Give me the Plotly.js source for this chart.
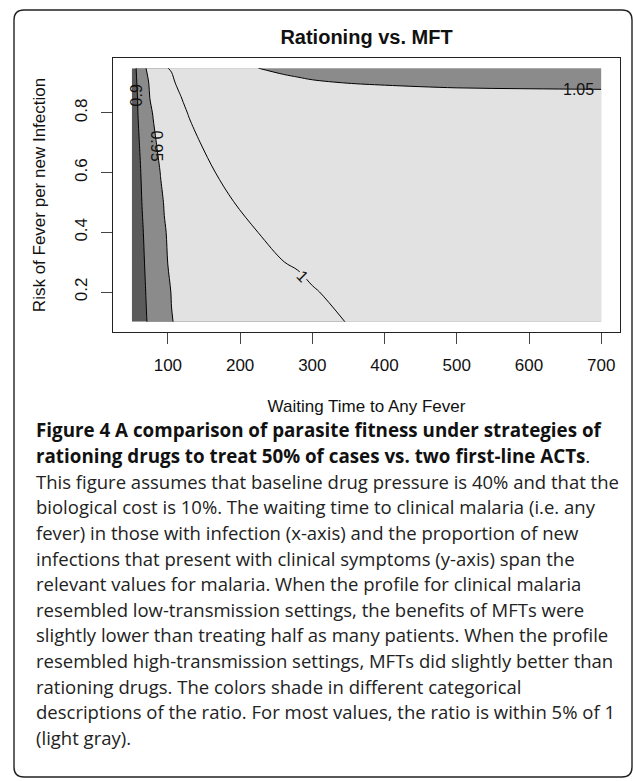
<!DOCTYPE html>
<html><head><meta charset="utf-8">
<script src="https://cdn.plot.ly/plotly-3.0.1.min.js"></script>
<style>html,body{margin:0;padding:0;background:#fff;}#chart{width:633px;height:781px;}</style>
</head><body><div id="chart"></div>
<script>
// ---- data ----
const waitingTime = [50,55,60,65,70,75,80,85,90,95,100,105,110,120,130,145,165,190,225,260,280,300,350,400,500,600,700];
const feverRisk = [0.1,0.2,0.3,0.4,0.5,0.6,0.7,0.8,0.85,0.9,0.95];
const ratioRow010 = [0.8696,0.8768,0.8841,0.8913,0.8986,0.9058,0.9130,0.9203,0.9275,0.9348,0.9420,0.9493,0.9509,0.9530,0.9551,0.9582,0.9624,0.9676,0.9749,0.9823,0.9864,0.9906,1.0010,1.0115,1.0212,1.0233,1.0254];
const ratioRow020 = [0.8705,0.8781,0.8858,0.8934,0.9011,0.9087,0.9164,0.9240,0.9317,0.9393,0.9469,0.9507,0.9519,0.9543,0.9567,0.9603,0.9651,0.9712,0.9796,0.9880,0.9928,0.9976,1.0096,1.0202,1.0226,1.0250,1.0274];
const ratioRow030 = [0.8716,0.8797,0.8877,0.8958,0.9039,0.9119,0.9200,0.9281,0.9361,0.9442,0.9504,0.9520,0.9535,0.9566,0.9597,0.9643,0.9704,0.9781,0.9889,0.9997,1.0027,1.0088,1.0207,1.0223,1.0254,1.0284,1.0300];
const ratioRow040 = [0.8733,0.8817,0.8900,0.8983,0.9067,0.9150,0.9233,0.9317,0.9400,0.9483,0.9516,0.9535,0.9554,0.9593,0.9632,0.9690,0.9767,0.9864,1.0001,1.0136,1.0201,1.0209,1.0228,1.0248,1.0287,1.0300,1.0300];
const ratioRow050 = [0.8754,0.8842,0.8930,0.9018,0.9105,0.9193,0.9281,0.9368,0.9456,0.9513,0.9538,0.9563,0.9588,0.9638,0.9688,0.9764,0.9864,0.9990,1.0166,1.0214,1.0224,1.0234,1.0259,1.0285,1.0300,1.0300,1.0300];
const ratioRow060 = [0.8759,0.8855,0.8952,0.9048,0.9145,0.9241,0.9338,0.9434,0.9510,0.9543,0.9575,0.9607,0.9639,0.9704,0.9768,0.9865,0.9994,1.0155,1.0218,1.0241,1.0253,1.0266,1.0299,1.0300,1.0300,1.0300,1.0300];
const ratioRow070 = [0.8767,0.8878,0.8989,0.9100,0.9211,0.9322,0.9433,0.9516,0.9556,0.9597,0.9637,0.9677,0.9718,0.9798,0.9879,1.0001,1.0161,1.0216,1.0245,1.0273,1.0289,1.0300,1.0300,1.0300,1.0300,1.0300,1.0300];
const ratioRow080 = [0.8776,0.8908,0.9039,0.9171,0.9303,0.9434,0.9525,0.9576,0.9626,0.9677,0.9727,0.9778,0.9828,0.9929,1.0030,1.0182,1.0218,1.0244,1.0279,1.0300,1.0300,1.0300,1.0300,1.0300,1.0300,1.0300,1.0300];
const ratioRow085 = [0.8765,0.8912,0.9059,0.9206,0.9353,0.9501,0.9557,0.9614,0.9670,0.9727,0.9784,0.9841,0.9898,1.0011,1.0040,1.0060,1.0070,1.0080,1.0090,1.0100,1.0105,1.0110,1.0125,1.0150,1.0190,1.0210,1.0230];
const ratioRow090 = [0.8774,0.8935,0.9097,0.9258,0.9419,0.9533,0.9600,0.9667,0.9733,0.9800,0.9867,0.9933,0.9999,1.0038,1.0074,1.0124,1.0183,1.0245,1.0310,1.0360,1.0407,1.0449,1.0504,1.0557,1.0646,1.0678,1.0696];
const ratioRow095 = [0.8778,0.8963,0.9148,0.9333,0.9508,0.9590,0.9672,0.9754,0.9836,0.9918,0.9998,1.0025,1.0049,1.0097,1.0143,1.0209,1.0291,1.0385,1.0499,1.0600,1.0640,1.0680,1.0760,1.0810,1.0870,1.0910,1.0940];
const xTickValues = [100,200,300,400,500,600,700];
const yTickValues = [0.2,0.4,0.6,0.8];
const yTickLabels = ['0.2','0.4','0.6','0.8'];
const contourLabelText = ['0.9','0.95','1','1.05'];
const captionLines = [
  '<b>Figure 4 A comparison of parasite fitness under strategies of</b>',
  '<b>rationing drugs to treat 50% of cases vs. two first-line ACTs</b>.',
  'This figure assumes that baseline drug pressure is 40% and that the',
  'biological cost is 10%. The waiting time to clinical malaria (i.e. any',
  'fever) in those with infection (x-axis) and the proportion of new',
  'infections that present with clinical symptoms (y-axis) span the',
  'relevant values for malaria. When the profile for clinical malaria',
  'resembled low-transmission settings, the benefits of MFTs were',
  'slightly lower than treating half as many patients. When the profile',
  'resembled high-transmission settings, MFTs did slightly better than',
  'rationing drugs. The colors shade in different categorical',
  'descriptions of the ratio. For most values, the ratio is within 5% of 1',
  '(light gray).'
];

// ---- layout geometry ----
const W = 633, H = 781;
const M = {l:113, r:13, t:58, b:449};
const PW = W - M.l - M.r, PH = H - M.t - M.b;
const px2x = p => (p - M.l) / PW;
const py2y = p => (H - M.b - p) / PH;

const DARK = '#5b5b5b', MID = '#8b8b8b', LIGHT = '#e2e2e2';
const RFONT = 'Liberation Sans, Arial, sans-serif';
const CFONT = 'Open Sans, Noto Sans, sans-serif';

const ratio = [ratioRow010,ratioRow020,ratioRow030,ratioRow040,ratioRow050,ratioRow060,ratioRow070,ratioRow080,ratioRow085,ratioRow090,ratioRow095];

const trace = {
  type: 'contour',
  x: waitingTime, y: feverRisk, z: ratio,
  autocontour: false,
  contours: {start: 0.9, end: 1.05, size: 0.05, coloring: 'fill', showlines: true},
  colorscale: [[0, DARK],[0.25, MID],[0.5, LIGHT],[0.75, LIGHT],[1, MID]],
  line: {color: '#000', width: 1, smoothing: 1},
  showscale: false,
  hoverinfo: 'skip'
};

// outer rounded frame
const fx0 = px2x(14), fx1 = px2x(632), fy1 = py2y(10), fy0 = py2y(777);
const rx = 10/PW, ry = 10/PH;
const framePath = `M ${fx0+rx},${fy1} L ${fx1-rx},${fy1} Q ${fx1},${fy1} ${fx1},${fy1-ry} L ${fx1},${fy0+ry} Q ${fx1},${fy0} ${fx1-rx},${fy0} L ${fx0+rx},${fy0} Q ${fx0},${fy0} ${fx0},${fy0+ry} L ${fx0},${fy1-ry} Q ${fx0},${fy1} ${fx0+rx},${fy1} Z`;

const annotations = [];
// contour labels
const labelFont = {family: RFONT, size: 16, color: '#111'};
annotations.push({xref:'x', yref:'y', x:57, y:0.858, text:contourLabelText[0], showarrow:false, textangle:-90, font:labelFont});
annotations.push({xref:'x', yref:'y', x:84.8, y:0.688, text:contourLabelText[1], showarrow:false, textangle:90, font:labelFont});
annotations.push({xref:'x', yref:'y', x:287, y:0.252, text:contourLabelText[2], showarrow:false, textangle:45, font:labelFont, bgcolor:LIGHT, borderpad:0});
annotations.push({xref:'x', yref:'y', x:668, y:0.880, text:contourLabelText[3], showarrow:false, textangle:0, font:labelFont});

// caption
const capTop = 430, capStep = 25.6;
captionLines.forEach((t, i) => {
  annotations.push({
    xref:'paper', yref:'paper', x: px2x(34), y: py2y(capTop + i*capStep),
    xanchor:'left', yanchor:'middle', showarrow:false, align:'left',
    text: t,
    font: {family: CFONT, size: i < 2 ? 18.8 : 18.5, color: i < 2 ? '#111' : '#222'}
  });
});

const axisCommon = {
  showline: true, linecolor: '#222', linewidth: 1.2, mirror: true,
  ticks: 'outside', ticklen: 10.5, tickwidth: 1, tickcolor: '#444',
  showgrid: false, zeroline: false,
  tickfont: {family: RFONT, size: 17, color: '#111'}
};

const layout = {
  width: W, height: H,
  margin: M,
  paper_bgcolor: '#fff', plot_bgcolor: '#fff',
  showlegend: false,
  title: {text: '<b>Rationing vs. MFT</b>', font: {family: RFONT, size: 20, color: '#111'},
          x: 0.5, xref: 'paper', xanchor: 'center', y: 1 - 37/H, yref: 'container', yanchor: 'middle'},
  xaxis: Object.assign({}, axisCommon, {
    range: [24, 726], tickmode: 'array', tickvals: xTickValues,
    ticklabelstandoff: 7,
    title: {text: 'Waiting Time to Any Fever', font: {family: RFONT, size: 17, color: '#111'}, standoff: 26}
  }),
  yaxis: Object.assign({}, axisCommon, {
    range: [0.066, 0.984], tickmode: 'array', tickvals: yTickValues, ticktext: yTickLabels,
    tickangle: -90, ticklabelstandoff: 8,
    title: {text: 'Risk of Fever per new Infection', font: {family: RFONT, size: 17, color: '#111'}, standoff: 21}
  }),
  shapes: [{type: 'path', xref: 'paper', yref: 'paper', path: framePath,
            line: {color: '#222', width: 1.4}, fillcolor: 'rgba(0,0,0,0)', layer: 'above'}],
  annotations: annotations
};

Plotly.newPlot('chart', [trace], layout, {displayModeBar: false, staticPlot: true});
</script>
</body></html>
